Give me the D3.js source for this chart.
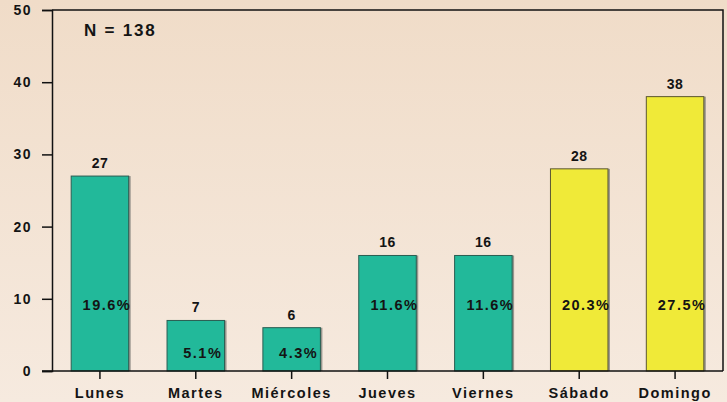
<!DOCTYPE html>
<html>
<head>
<meta charset="utf-8">
<script src="https://cdn.jsdelivr.net/npm/d3@7"></script>
<style>
  body { margin: 0; }
  text { font-family: Arial, "Liberation Sans", sans-serif; font-weight: bold; fill: #141414; }
</style>
</head>
<body>
<div id="chart"></div>
<script>
var days = ["Lunes", "Martes", "Miércoles", "Jueves", "Viernes", "Sábado", "Domingo"];
var counts = [27, 7, 6, 16, 16, 28, 38];
var percents = ["19.6%", "5.1%", "4.3%", "11.6%", "11.6%", "20.3%", "27.5%"];
var weekend = [false, false, false, false, false, true, true];
var yTicks = [0, 10, 20, 30, 40, 50];
var total = 138;

var width = 727, height = 402;
var margin = {top: 10, right: 4, bottom: 31, left: 52};
var w = width - margin.left - margin.right;
var h = height - margin.top - margin.bottom;

var svg = d3.select("#chart").append("svg")
    .attr("width", width)
    .attr("height", height);

var grad = svg.append("defs").append("linearGradient")
    .attr("id", "bg").attr("x1", 0).attr("y1", 0).attr("x2", 0).attr("y2", 1);
grad.append("stop").attr("offset", "0%").attr("stop-color", "#f0dcc8");
grad.append("stop").attr("offset", "100%").attr("stop-color", "#f6eadf");

svg.append("rect").attr("width", width).attr("height", height).attr("fill", "url(#bg)");

var g = svg.append("g").attr("transform", "translate(" + margin.left + "," + margin.top + ")");

var x = d3.scaleBand().domain(days).range([0, w]).paddingInner(0.4).paddingOuter(0.2);
var y = d3.scaleLinear().domain([0, 50]).range([h, 0]);

// frame top + right
g.append("path")
    .attr("d", "M0,0H" + w + "V" + h)
    .attr("fill", "none").attr("stroke", "#111").attr("stroke-width", 1.5);

var data = days.map(function(d, i) {
  return {day: d, value: counts[i], pct: percents[i], weekend: weekend[i]};
});

// shadow
g.selectAll(".shadow").data(data).enter().append("rect")
    .attr("x", d => x(d.day) + 2)
    .attr("y", d => y(d.value))
    .attr("width", x.bandwidth())
    .attr("height", d => h - y(d.value))
    .attr("fill", "#9a968e");

g.selectAll(".bar").data(data).enter().append("rect")
    .attr("class", "bar")
    .attr("x", d => x(d.day))
    .attr("y", d => y(d.value))
    .attr("width", x.bandwidth())
    .attr("height", d => h - y(d.value))
    .attr("fill", d => d.weekend ? "#f0ea38" : "#22b99a")
    .attr("stroke", d => d.weekend ? "#5c5830" : "#2a5e52")
    .attr("stroke-width", 1);

g.selectAll(".val").data(data).enter().append("text")
    .attr("x", d => x(d.day) + x.bandwidth() / 2)
    .attr("y", d => y(d.value) - 8)
    .attr("text-anchor", "middle")
    .attr("font-size", 14)
    .style("letter-spacing", "0.5px")
    .text(d => d.value);

g.selectAll(".pct").data(data).enter().append("text")
    .attr("x", d => x(d.day) + x.bandwidth() / 2 + 7)
    .attr("y", d => d.value > 10 ? y(8.4) : y(1.8))
    .attr("text-anchor", "middle")
    .attr("font-size", 14.5)
    .style("letter-spacing", "1.5px")
    .text(d => d.pct);

var yAxis = g.append("g")
    .call(d3.axisLeft(y).tickValues(yTicks).tickSize(10).tickPadding(10));
var xAxis = g.append("g")
    .attr("transform", "translate(0," + h + ")")
    .call(d3.axisBottom(x).tickSize(8).tickPadding(9).tickSizeOuter(0));

[yAxis, xAxis].forEach(function(a) {
  a.select(".domain").attr("stroke", "#111").attr("stroke-width", 1.5);
  a.selectAll(".tick line").attr("stroke", "#111").attr("stroke-width", 1.5);
  a.selectAll("text").attr("font-size", 14).attr("font-family", null)
      .style("letter-spacing", "1.5px").attr("fill", "#141414");
});
xAxis.selectAll("text").attr("font-size", 14.5);
// extend bottom axis line to the left like the reference
xAxis.select(".domain").attr("d", "M-10,0H" + w);

g.append("text")
    .attr("x", 32)
    .attr("y", 26)
    .attr("font-size", 17)
    .style("letter-spacing", "1.8px")
    .text("N = " + total);
</script>
</body>
</html>
